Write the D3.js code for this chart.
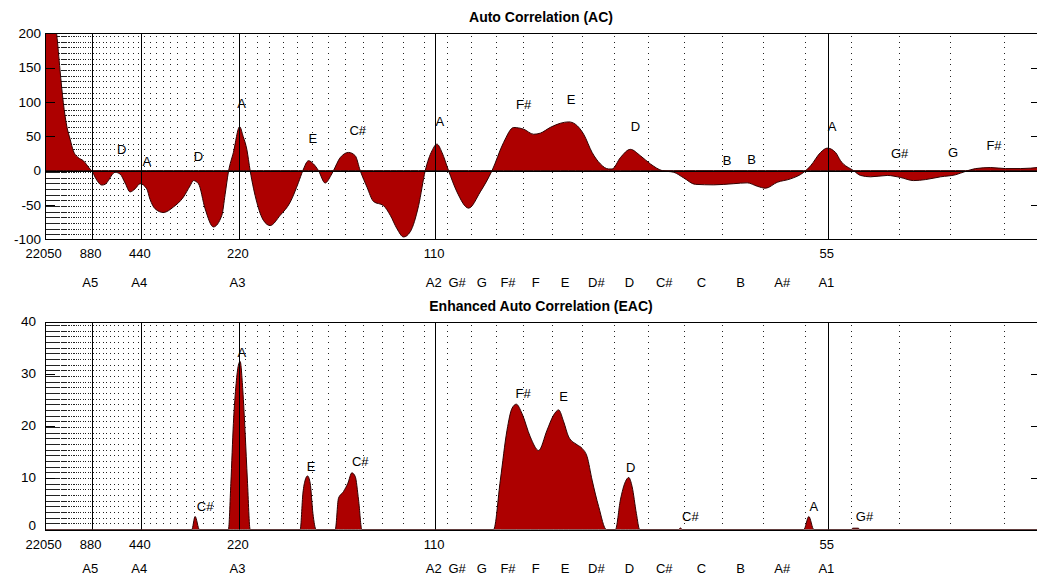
<!DOCTYPE html>
<html><head><meta charset="utf-8">
<script src="https://cdn.jsdelivr.net/npm/d3@7"></script>
<style>
body{margin:0;background:#fff;}
svg{display:block;font-family:"Liberation Sans",Arial,sans-serif;}
</style></head><body>
<svg id="chart" width="1037" height="579"></svg>
<script>
// ---------- DATA (lag in samples at 44100 Hz) ----------
const sampleRate = 44100;
const acLag = [2, 9.6, 14.4, 17.7, 21.1, 24.6, 28.0, 31.3, 36.4, 41.5, 48.4, 50.1, 54.5, 60.4, 63.7, 67.1, 70.9, 73.9, 79.1, 84.2, 89.3, 94.4, 99.5, 106.3, 109.7, 114.8, 123.3, 133.5, 143.7, 150.6, 154.0, 159.1, 165.9, 174.4, 183.0, 186.3, 189.7, 194.8, 201.2, 204.7, 208.5, 211.9, 218.7, 225.5, 232.3, 242.6, 252.8, 261.3, 265.7, 271.5, 276.6, 281.7, 288.5, 294.4, 297.0, 303.9, 312.4, 319.2, 324.3, 331.2, 337.9, 348.1, 355.0, 361.8, 368.6, 375.4, 383.9, 390.7, 397.6, 402.7, 407.8, 414.5, 423.1, 435.0, 446.9, 458.9, 470.7, 481.0, 491.2, 501.4, 508.2, 518.5, 528.7, 537.2, 544.0, 552.5, 561.1, 569.6, 578.0, 581.5, 590.0, 600.2, 610.4, 620.7, 632.6, 644.5, 654.7, 666.6, 685.3, 705.8, 719.5, 729.7, 738.2, 750.1, 763.7, 777.3, 784.2, 794.4, 801.2, 809.7, 814.8, 828.1, 835.2, 845.5, 862.5, 876.1, 889.4, 901.7, 917.0, 932.3, 942.6, 952.8, 968.1, 983.4, 998.8, 1019.2];
const acValue = [320, 240, 198, 147, 99, 65, 46, 29, 19, 14.5, 2.4, 0, -12, -21, -20, -14.5, -6, -2.4, -5, -18, -31, -26.5, -19, -26.5, -42, -55.5, -61, -53, -38.6, -22, -14.5, -19, -55.5, -82, -65, -35, -2, 26.5, 64, 50, 31, 0, -46, -72.5, -80, -65, -46, -17, 0, 14.5, 9.7, 0, -18, -7, 0, 19, 26.5, 21.7, 0, -24, -45, -51, -65, -84.5, -96.6, -89, -51, 0, 29, 38.6, 26.5, 0, -31, -54.6, -31, 0, 41, 62.8, 60.4, 53, 54.6, 63, 69, 71, 67.6, 53, 26.5, 9.7, 2.4, 2.4, 19, 31, 21.7, 9.7, 0, -2.4, -10.6, -20, -20.7, -19, -17.8, -22.7, -25.6, -17, -12, -2.4, 7, 26.5, 32.8, 26.5, 14.5, 0, -7, -9, -7, -10, -14.5, -13, -9, -6, -1, 3, 4.5, 3, 3, 5];

const eacLag = [2, 152.3, 155.7, 160.1, 189.7, 192.2, 194.8, 197.6, 199.9, 201.7, 204.4, 206.8, 209.1, 211.9, 263.0, 265.8, 268.1, 270.5, 273.2, 276.0, 279.3, 298.8, 302.1, 307.2, 311.7, 315.8, 319.2, 322.6, 326.0, 460.5, 467.4, 474.2, 479.3, 483.7, 489.5, 498.0, 506.5, 515.1, 521.8, 526.9, 532.1, 537.2, 545.7, 550.9, 556.0, 561.1, 567.8, 575.7, 584.9, 590.0, 595.1, 598.5, 602.0, 606.3, 609.7, 649.3, 651.3, 653.4, 777.3, 782.4, 787.5, 826.0, 827.1, 833.2, 834.0, 1019.2];
const eacValue = [0, 0, 2.5, 0, 0, 8.9, 20.4, 28.1, 31.6, 32.3, 26.8, 18.5, 9.5, 0, 0, 7, 9.5, 10.3, 8.9, 3.1, 0, 0, 6, 7.3, 8.9, 10.9, 10.2, 5.7, 0, 0, 9.5, 19.1, 23.3, 24.1, 22.3, 17.8, 15.2, 19.1, 22, 23, 20.7, 17.8, 16.3, 15.6, 14, 9.5, 4.4, 0, 0, 5.7, 9.2, 10, 8.2, 3.1, 0, 0, 0.3, 0, 0, 2.5, 0, 0, 0.25, 0.25, 0, 0];

const acPeakText  = ["D", "A", "D", "A", "E", "C#", "A", "F#", "E", "D", "B", "B", "A", "G#", "G", "F#"];
const acPeakLag   = [80.8, 106.3, 159.1, 203.2, 275.8, 321.8, 405.5, 491.2, 539.6, 605.3, 699.0, 723.9, 806.1, 875.1, 929.6, 971.5];
const acPeakValue = [31.5, 14.1, 20.3, 97.8, 47.5, 59.2, 71.1, 96.6, 103.9, 65, 14.8, 15.8, 65, 25, 26.7, 37.4];

const eacPeakText  = ["C#", "A", "E", "C#", "F#", "E", "D", "C#", "A", "G#"];
const eacPeakLag   = [165.9, 203.4, 274.2, 324.3, 490.6, 532.1, 600.6, 661.5, 787.5, 839.3];
const eacPeakValue = [4.4, 34, 12.2, 13, 26.2, 25.5, 12, 2.5, 4.4, 2.5];

const freqTicks = [22050, 880, 440, 220, 110, 55];
const aLineFreqs = [880, 440, 220, 110, 55];
const noteNames = ["A5", "A4", "A3", "A2", "G#", "G", "F#", "F", "E", "D#", "D", "C#", "C", "B", "A#", "A1"];
const noteFreqs = [880, 440, 220, 110, 103.83, 98.0, 92.50, 87.31, 82.41, 77.78, 73.42, 69.30, 65.41, 61.74, 58.27, 55];
const acYTicks = [200, 150, 100, 50, 0, -50, -100];
const eacYTicks = [0, 10, 20, 30, 40];

// ---------- LAYOUT ----------
const svg = d3.select("#chart");
const left = 45, right = 1041;
const x = d3.scaleLinear().domain([2, 1019.3]).range([44.6, 1040.8]);
const lagOf = f => sampleRate / f;

// quarter-tone boundaries (dotted grid)
const gridLags = [];
for (let k = -4; k < 110; k++) {
  const L = sampleRate / (55 * Math.pow(2, (k + 0.5) / 12));
  if (L > 2 && L < 1019) gridLags.push(L);
}

function panel(cfg) {
  const y = d3.scaleLinear().domain(cfg.yDomain).range([cfg.bottom, cfg.top]);
  const g = svg.append("g");
  const clipId = "clip" + cfg.id;
  svg.append("clipPath").attr("id", clipId).append("rect")
    .attr("x", left).attr("y", cfg.top).attr("width", right - left).attr("height", cfg.bottom - cfg.top);

  // title
  g.append("text").attr("x", 541).attr("y", cfg.titleY).attr("text-anchor", "middle")
    .attr("font-size", 14).attr("font-weight", "bold").text(cfg.title);

  const inner = g.append("g").attr("clip-path", `url(#${clipId})`);
  // dotted grid
  inner.selectAll("line.grid").data(gridLags).enter().append("line")
    .attr("x1", d => Math.round(x(d)) + 0.5).attr("x2", d => Math.round(x(d)) + 0.5)
    .attr("y1", Math.round(cfg.top) + 3).attr("y2", cfg.bottom - 1)
    .attr("stroke", "#222").attr("stroke-width", 1)
    .attr("shape-rendering", "crispEdges")
    .attr("stroke-dasharray", "1,4.67");

  // area
  const data = cfg.lag.map((l, i) => ({ l, v: cfg.val[i] }));
  const area = d3.area().x(d => x(d.l)).y0(y(0)).y1(d => y(d.v)).curve(d3.curveMonotoneX);
  inner.append("path").datum(data).attr("d", area)
    .attr("fill", "#ad0000").attr("stroke", "#300000").attr("stroke-width", 1);

  // A lines
  inner.selectAll("line.a").data(aLineFreqs).enter().append("line")
    .attr("x1", d => Math.round(x(lagOf(d))) + 0.5).attr("x2", d => Math.round(x(lagOf(d))) + 0.5)
    .attr("y1", cfg.top).attr("y2", cfg.bottom)
    .attr("stroke", "#000").attr("stroke-width", 1).attr("shape-rendering", "crispEdges");

  // zero line
  g.append("line").attr("x1", left).attr("x2", right)
    .attr("y1", Math.round(y(0)) + 0.5).attr("y2", Math.round(y(0)) + 0.5)
    .attr("stroke", "#000").attr("shape-rendering", "crispEdges");

  // frame
  g.append("rect").attr("x", left + 0.5).attr("y", Math.round(cfg.top) + 0.5)
    .attr("width", right - left).attr("height", Math.round(cfg.bottom) - Math.round(cfg.top))
    .attr("fill", "none").attr("stroke", "#000").attr("shape-rendering", "crispEdges");

  // y ticks (inward both sides)
  cfg.yTicks.forEach(t => {
    const yy = Math.round(y(t)) + 0.5;
    g.append("line").attr("x1", left).attr("x2", left + 10).attr("y1", yy).attr("y2", yy)
      .attr("stroke", "#000").attr("shape-rendering", "crispEdges");
    g.append("line").attr("x1", right - 10).attr("x2", right).attr("y1", yy).attr("y2", yy)
      .attr("stroke", "#000").attr("shape-rendering", "crispEdges");
    g.append("text").attr("x", cfg.labelX).attr("y", y(t) + (t === cfg.yDomain[0] && cfg.id === "eac" ? -4 : 0)).attr("dy", "0.35em")
      .attr("text-anchor", "end").attr("font-size", 13.5).text(t);
  });

  // frequency labels
  g.selectAll("text.freq").data(freqTicks).enter().append("text")
    .attr("x", d => x(lagOf(d)) - 1).attr("y", cfg.freqY).attr("dy", "0.35em")
    .attr("text-anchor", "middle").attr("font-size", 13).text(d => d);

  // note labels
  g.selectAll("text.note").data(noteNames).enter().append("text")
    .attr("x", (d, i) => x(lagOf(noteFreqs[i])) - 1.5).attr("y", cfg.noteY).attr("dy", "0.35em")
    .attr("text-anchor", "middle").attr("font-size", 13).text(d => d);

  // peak labels
  g.selectAll("text.peak").data(cfg.peakText).enter().append("text")
    .attr("x", (d, i) => x(cfg.peakLag[i])).attr("y", (d, i) => y(cfg.peakVal[i])).attr("dy", "0.35em")
    .attr("text-anchor", "middle").attr("font-size", 13).text(d => d);
}

panel({ id: "ac", title: "Auto Correlation (AC)", titleY: 22, top: 33.3, bottom: 239.3,
  yDomain: [-100, 200], yTicks: acYTicks, labelX: 41, lag: acLag, val: acValue,
  freqY: 253, noteY: 282, peakText: acPeakText, peakLag: acPeakLag, peakVal: acPeakValue });

panel({ id: "eac", title: "Enhanced Auto Correlation (EAC)", titleY: 311, top: 321.5, bottom: 529.5,
  yDomain: [0, 40], yTicks: eacYTicks, labelX: 36, lag: eacLag, val: eacValue,
  freqY: 544, noteY: 568, peakText: eacPeakText, peakLag: eacPeakLag, peakVal: eacPeakValue });
</script>
</body></html>
